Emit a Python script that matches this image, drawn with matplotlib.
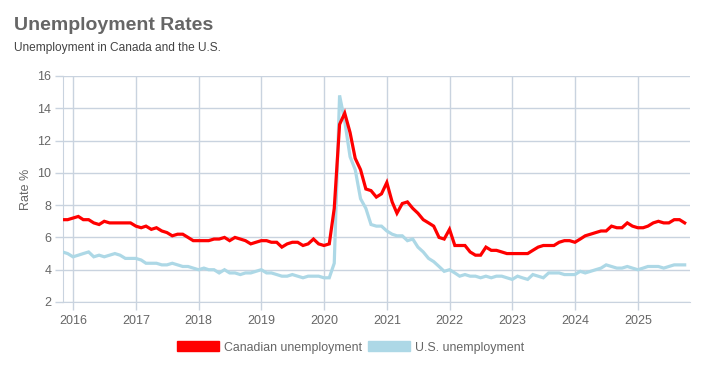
import matplotlib
matplotlib.use("Agg")
import matplotlib.pyplot as plt
import matplotlib.dates as mdates
from matplotlib.patches import Patch
import datetime as dt

# Monthly data, Nov 2015 .. Oct 2025
start_year, start_month = 2015, 11
canada = [
    7.1, 7.1,
    7.2, 7.3, 7.1, 7.1, 6.9, 6.8, 7.0, 6.9, 6.9, 6.9, 6.9, 6.9,
    6.7, 6.6, 6.7, 6.5, 6.6, 6.4, 6.3, 6.1, 6.2, 6.2, 6.0, 5.8,
    5.8, 5.8, 5.8, 5.9, 5.9, 6.0, 5.8, 6.0, 5.9, 5.8, 5.6, 5.7,
    5.8, 5.8, 5.7, 5.7, 5.4, 5.6, 5.7, 5.7, 5.5, 5.6, 5.9, 5.6,
    5.5, 5.6, 7.8, 13.0, 13.7, 12.5, 10.9, 10.2, 9.0, 8.9, 8.5, 8.7,
    9.4, 8.2, 7.5, 8.1, 8.2, 7.8, 7.5, 7.1, 6.9, 6.7, 6.0, 5.9,
    6.5, 5.5, 5.5, 5.5, 5.1, 4.9, 4.9, 5.4, 5.2, 5.2, 5.1, 5.0,
    5.0, 5.0, 5.0, 5.0, 5.2, 5.4, 5.5, 5.5, 5.5, 5.7, 5.8, 5.8,
    5.7, 5.9, 6.1, 6.2, 6.3, 6.4, 6.4, 6.7, 6.6, 6.6, 6.9, 6.7,
    6.6, 6.6, 6.7, 6.9, 7.0, 6.9, 6.9, 7.1, 7.1, 6.9,
]
us = [
    5.1, 5.0,
    4.8, 4.9, 5.0, 5.1, 4.8, 4.9, 4.8, 4.9, 5.0, 4.9, 4.7, 4.7,
    4.7, 4.6, 4.4, 4.4, 4.4, 4.3, 4.3, 4.4, 4.3, 4.2, 4.2, 4.1,
    4.0, 4.1, 4.0, 4.0, 3.8, 4.0, 3.8, 3.8, 3.7, 3.8, 3.8, 3.9,
    4.0, 3.8, 3.8, 3.7, 3.6, 3.6, 3.7, 3.6, 3.5, 3.6, 3.6, 3.6,
    3.5, 3.5, 4.4, 14.8, 13.2, 11.0, 10.2, 8.4, 7.8, 6.8, 6.7, 6.7,
    6.4, 6.2, 6.1, 6.1, 5.8, 5.9, 5.4, 5.1, 4.7, 4.5, 4.2, 3.9,
    4.0, 3.8, 3.6, 3.7, 3.6, 3.6, 3.5, 3.6, 3.5, 3.6, 3.6, 3.5,
    3.4, 3.6, 3.5, 3.4, 3.7, 3.6, 3.5, 3.8, 3.8, 3.8, 3.7, 3.7,
    3.7, 3.9, 3.8, 3.9, 4.0, 4.1, 4.3, 4.2, 4.1, 4.1, 4.2, 4.1,
    4.0, 4.1, 4.2, 4.2, 4.2, 4.1, 4.2, 4.3, 4.3, 4.3,
]
series_labels = ["Canadian unemployment", "U.S. unemployment"]
year_ticks = list(range(2016, 2026))
y_ticks = [2, 4, 6, 8, 10, 12, 14, 16]

def month_date(i):
    m = start_month - 1 + i
    return dt.date(start_year + m // 12, m % 12 + 1, 1)

dates = [month_date(i) for i in range(len(canada))]

plt.rcParams['font.family'] = ['Liberation Sans', 'DejaVu Sans']
W, H = 705, 378
fig = plt.figure(figsize=(W / 100, H / 100), dpi=100)
L, R, T, B = 62.5, 690, 76, 302
ax = fig.add_axes([L / W, 1 - B / H, (R - L) / W, (B - T) / H])

grid_c = '#c9d3df'
ax.plot(dates, us, color='#add8e6', lw=2.3, solid_joinstyle='miter', zorder=3)
ax.plot(dates, canada, color='#ff0000', lw=2.3, solid_joinstyle='miter', zorder=4)

ax.set_ylim(2, 16)
ax.set_yticks(y_ticks)
ax.set_xlim(dates[0], dt.date(2025, 11, 1))
ax.set_xticks([dt.date(y, 1, 1) for y in year_ticks])
ax.xaxis.set_major_formatter(mdates.DateFormatter('%Y'))

ax.grid(True, color=grid_c, lw=1)
ax.set_axisbelow(True)
for s in ['top', 'right']:
    ax.spines[s].set_visible(False)
for s in ['left', 'bottom']:
    ax.spines[s].set_color(grid_c)
ax.tick_params(axis='both', length=5.5, color=grid_c, labelcolor='#666666', labelsize=9, width=1)
ax.tick_params(axis='x', pad=4)
ax.tick_params(axis='y', pad=2.5)

ax.set_ylabel('Rate %', color='#666666', fontsize=9)
ax.yaxis.set_label_coords((32 - L) / (R - L), 0.5)

fig.text(14 / W, 1 - 25 / H, 'Unemployment Rates', fontsize=14, fontweight='bold', color='#666666', va='center', ha='left')
fig.text(14 / W, 1 - 48 / H, 'Unemployment in Canada and the U.S.', fontsize=8.6, color='#444444', va='center', ha='left')

handles = [Patch(facecolor='#ff0000', edgecolor='#ff0000'), Patch(facecolor='#add8e6', edgecolor='#add8e6')]
fig.legend(handles, series_labels, loc='center', bbox_to_anchor=(350.5 / W, 1 - 347.5 / H), ncol=2, frameon=False,
           fontsize=8.9, labelcolor='#666666', handlelength=3.45, handleheight=0.88, handletextpad=0.4,
           columnspacing=0.45, borderpad=0, borderaxespad=0)

fig.savefig('out.png', dpi=100)
